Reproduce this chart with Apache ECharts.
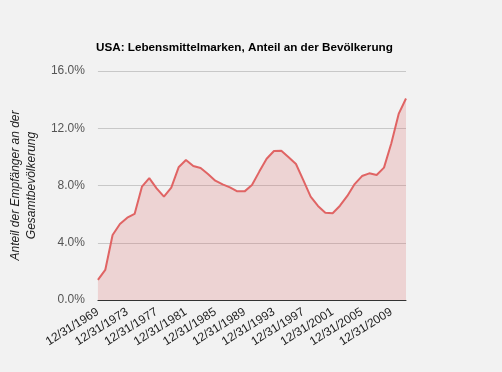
<!DOCTYPE html>
<html><head><meta charset="utf-8">
<script src="https://cdn.jsdelivr.net/npm/echarts@6/dist/echarts.min.js"></script>
<style>html,body{margin:0;padding:0;background:#f2f2f2}#c{width:502px;height:372px}</style>
</head><body><div id="c"></div>
<script>
const years = [];
for (let y = 1969; y <= 2011; y++) years.push('12/31/' + y);
const shares = [1.40,2.10,4.54,5.31,5.75,6.01,7.92,8.52,7.80,7.22,7.85,9.27,9.78,9.36,9.22,8.80,8.34,8.08,7.87,7.59,7.59,8.03,8.97,9.87,10.41,10.43,9.97,9.50,8.38,7.22,6.57,6.10,6.06,6.59,7.27,8.10,8.66,8.85,8.73,9.25,10.95,13.0,14.08];
const yTicks = [0,4,8,12,16];
const titleText = 'USA: Lebensmittelmarken, Anteil an der Bevölkerung';
const yName = 'Anteil der Empfänger an der\nGesamtbevölkerung';

const chart = echarts.init(document.getElementById('c'));
chart.setOption({
  backgroundColor: '#f2f2f2',
  animation: false,
  textStyle: {fontFamily: 'Liberation Sans, Arial, sans-serif'},
  title: {text: titleText, left: 91, top: 37,
    textStyle: {fontSize: 11.7, fontWeight: 'bold', color: '#000', fontFamily: 'Liberation Sans, Arial, sans-serif'}},
  grid: {left: 96, right: 96, top: 71, bottom: 72},
  xAxis: {type: 'category', data: years, boundaryGap: false,
    axisLine: {lineStyle: {color: '#333', width: 1}},
    axisTick: {show: false},
    axisLabel: {interval: 3, rotate: 32, fontSize: 12, color: '#222', margin: 11}},
  yAxis: {type: 'value', min: yTicks[0], max: yTicks[yTicks.length-1], interval: 4,
    name: yName, nameLocation: 'middle', nameGap: 50, nameRotate: 90,
    nameTextStyle: {fontSize: 12, fontStyle: 'italic', color: '#222', lineHeight: 16},
    axisLine: {show: false}, axisTick: {show: false},
    splitLine: {lineStyle: {color: '#c8c8c8'}},
    axisLabel: {formatter: v => v.toFixed(1) + '%', fontSize: 12, color: '#555', margin: 13}},
  series: [{type: 'line', data: shares, symbol: 'none',
    lineStyle: {color: '#e06464', width: 2},
    areaStyle: {color: 'rgba(224,100,100,0.3)'}}]
});
</script></body></html>
